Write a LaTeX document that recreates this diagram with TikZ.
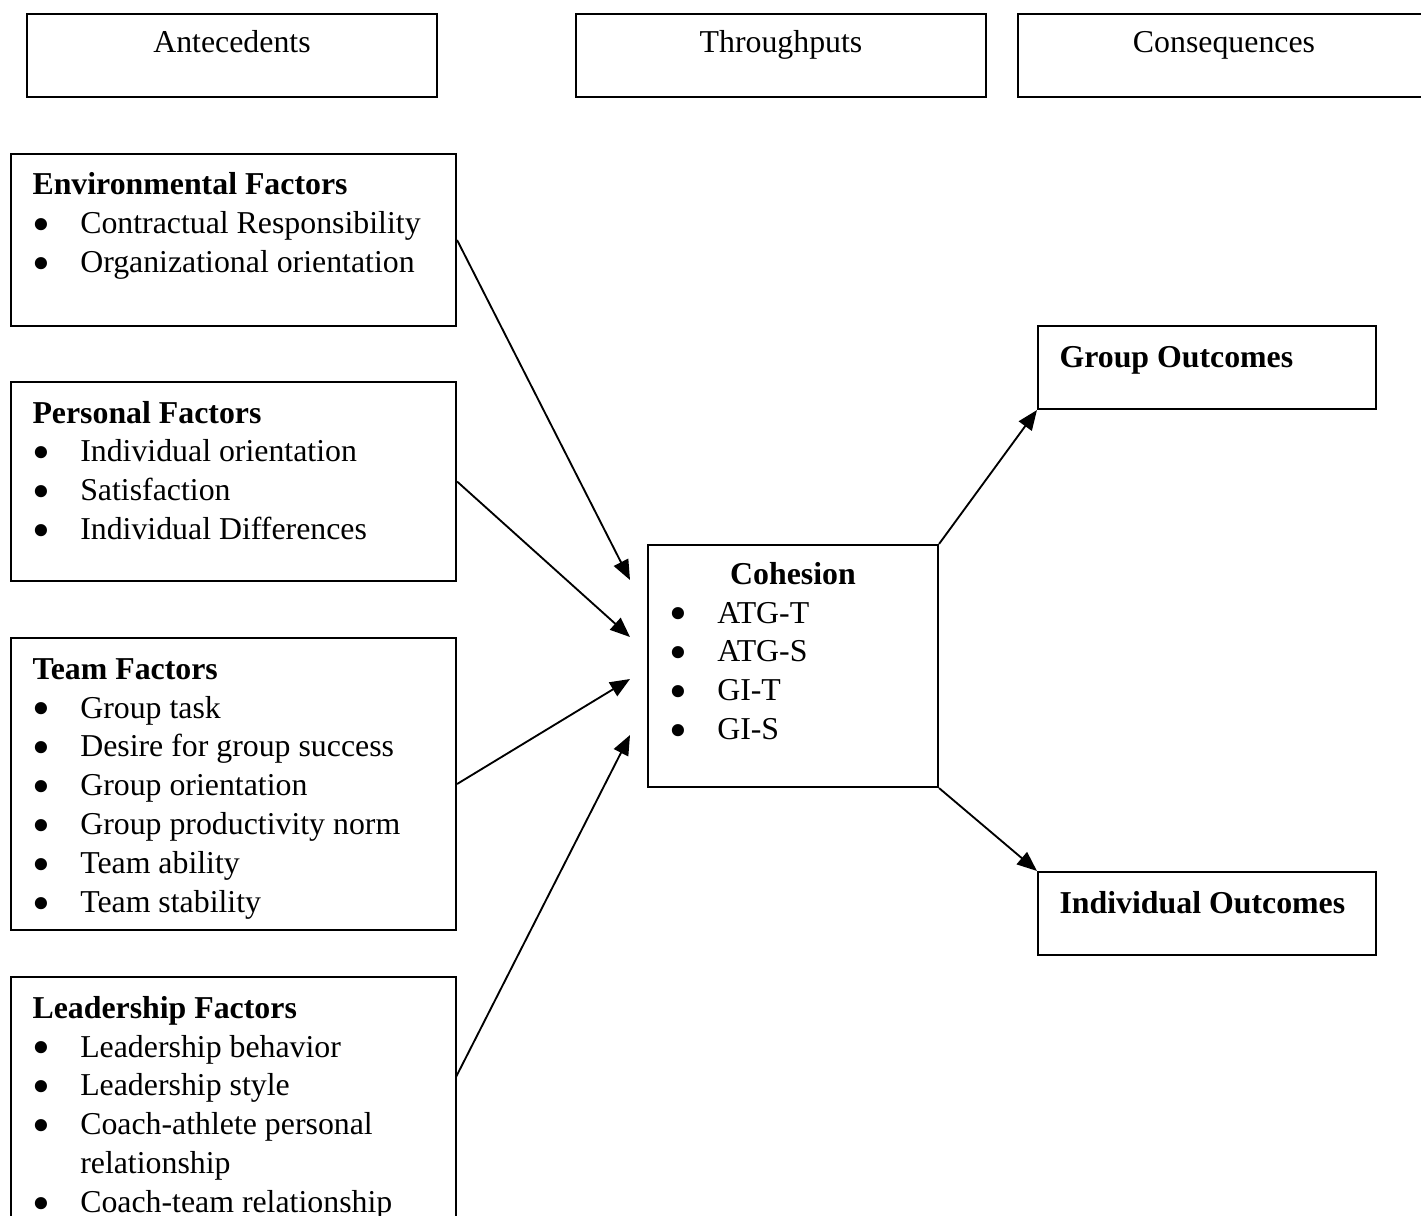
\documentclass[tikz,border=0pt]{standalone}
\usepackage{graphicx}
\usepackage{fontspec}
\setmainfont{Liberation Serif}
\usepackage{tikz}
\usetikzlibrary{positioning,arrows.meta,fit}
\newcommand{\bul}{\raisebox{-0.5ex}[0pt][0pt]{\scalebox{1.6}{\textbullet}}}

\begin{document}
\begin{tikzpicture}[x=0.377pt, y=-0.377pt,
                font=\fontsize{12}{14.7}\selectfont,
                every node/.append style = {inner sep=0pt},
                box/.style = {draw, line width=0.8pt},
                txt/.style = {anchor=base west},
                link/.style = {line width=0.7pt, -{Triangle[length=7.5pt,width=6pt]}}]
            \clip (0,0) rectangle (1421,1215);
            \node[box, fit={(27,14) (437,97)}] (ante) {};
            \node[anchor=base] (antelbl) at (232,53) {Antecedents};
            \node[box, fit={(576,14) (986,97)}] (thru) {};
            \node[anchor=base] (thrulbl) at (781,53) {Throughputs};
            \node[box, fit={(1018,14) (1430,97)}] (cons) {};
            \node[anchor=base] (conslbl) at (1224,53) {Consequences};
            \node[box, fit={(11,154) (456,326)}] (env) {};
            \node[txt] (envlbl) at (32,195) {\begin{tabular}[t]{@{}p{18pt}@{}l@{}}
                \multicolumn{2}{@{}l@{}}{\textbf{Environmental Factors}}\\
                \bul & Contractual Responsibility\\
                \bul & Organizational orientation
            \end{tabular}};
            \node[box, fit={(11,382) (456,581)}] (pers) {};
            \node[txt] (perslbl) at (32,423) {\begin{tabular}[t]{@{}p{18pt}@{}l@{}}
                \multicolumn{2}{@{}l@{}}{\textbf{Personal Factors}}\\
                \bul & Individual orientation\\
                \bul & Satisfaction\\
                \bul & Individual Differences
            \end{tabular}};
            \node[box, fit={(11,638) (456,930)}] (team) {};
            \node[txt] (teamlbl) at (32,679) {\begin{tabular}[t]{@{}p{18pt}@{}l@{}}
                \multicolumn{2}{@{}l@{}}{\textbf{Team Factors}}\\
                \bul & Group task\\
                \bul & Desire for group success\\
                \bul & Group orientation\\
                \bul & Group productivity norm\\
                \bul & Team ability\\
                \bul & Team stability
            \end{tabular}};
            \node[box, fit={(11,977) (456,1260)}] (lead) {};
            \node[txt] (leadlbl) at (32,1018) {\begin{tabular}[t]{@{}p{18pt}@{}l@{}}
                \multicolumn{2}{@{}l@{}}{\textbf{Leadership Factors}}\\
                \bul & Leadership behavior\\
                \bul & Leadership style\\
                \bul & Coach-athlete personal\\
                     & relationship\\
                \bul & Coach-team relationship
            \end{tabular}};
            \node[box, fit={(648,545) (938,787)}] (coh) {};
            \node[anchor=base] (cohhead) at (793,584) {\textbf{Cohesion}};
            \node[txt] (cohlbl) at (669,623) {\begin{tabular}[t]{@{}p{18pt}@{}l@{}}
                \bul & ATG-T\\
                \bul & ATG-S\\
                \bul & GI-T\\
                \bul & GI-S
            \end{tabular}};
            \node[box, fit={(1038,326) (1376,409)}] (grp) {};
            \node[txt] (grplbl) at (1059,367) {\textbf{Group Outcomes}};
            \node[box, fit={(1038,872) (1376,955)}] (ind) {};
            \node[txt] (indlbl) at (1059,913) {\textbf{Individual Outcomes}};
            \coordinate (lin) at (456,1077);
            \coordinate (t1) at (630,580);
            \coordinate (t2) at (630,637);
            \coordinate (t3) at (630,679);
            \coordinate (t4) at (630,735);
            \draw[link] (env.east) -- (t1);
            \draw[link] (pers.east) -- (t2);
            \draw[link] (team.east) -- (t3);
            \draw[link] (lin) -- (t4);
            \draw[link] (coh.north east) -- (grp.south west);
            \draw[link] (coh.south east) -- (ind.north west);
            \end{tikzpicture}
\end{document}
